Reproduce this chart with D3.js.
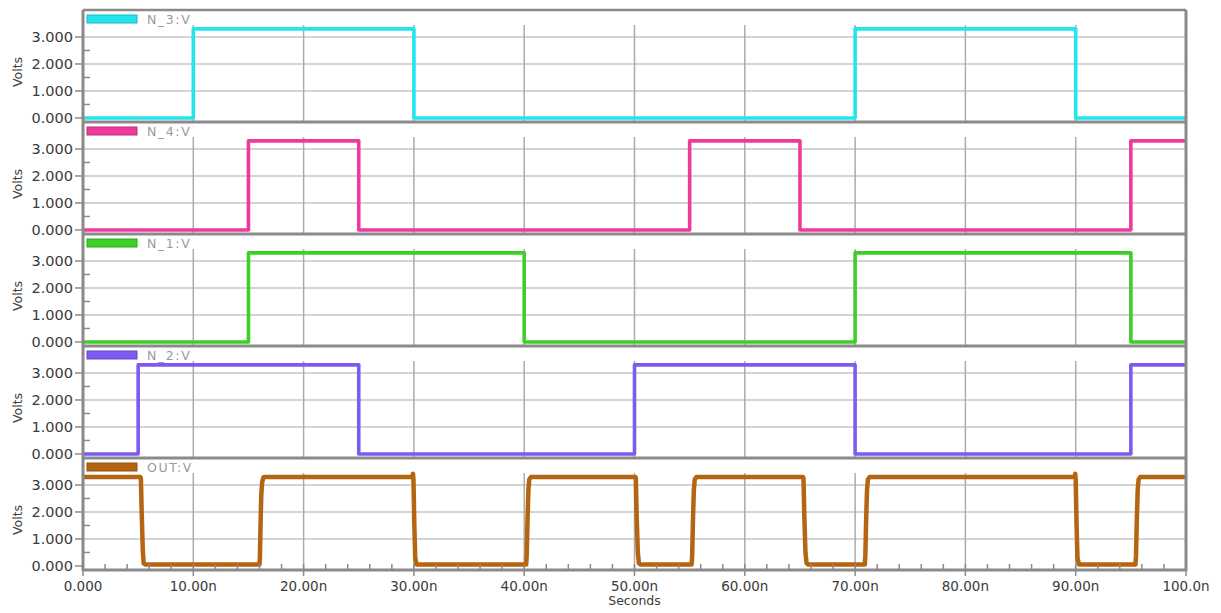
<!DOCTYPE html>
<html><head><meta charset="utf-8">
<script src="https://cdn.jsdelivr.net/npm/d3@7"></script>
<style>html,body{margin:0;padding:0;background:#fff;}svg{display:block;}</style>
</head><body>
<svg id="chart" width="1221" height="613"></svg>
<script>
// ---- data ----
const timeTicks = [0,10,20,30,40,50,60,70,80,90,100];
const timeTickLabels = ["0.000","10.00n","20.00n","30.00n","40.00n","50.00n","60.00n","70.00n","80.00n","90.00n","100.0n"];
const voltTicks = [0,1,2,3];
const voltTickLabels = ["0.000","1.000","2.000","3.000"];
const seriesNames = ["N_3:V","N_4:V","N_1:V","N_2:V","OUT:V"];
const seriesColors = ["#22e5ee","#ee3a9c","#3ccf25","#7d5af0","#b5650f"];
const highLevel = 3.3;
// input signals: start level and switching times (ns)
const n3Start = 0, n3Edges = [10,30,70,90];
const n4Start = 0, n4Edges = [15,25,55,65,95];
const n1Start = 0, n1Edges = [15,40,70,95];
const n2Start = 0, n2Edges = [5,25,50,70,95];
// OUT waveform (time ns, volts)
const outTime = [0,5.2,5.25,5.32,5.42,5.5,5.65,16.0,16.04,16.1,16.16,16.24,16.36,16.5,29.88,29.92,29.96,30.04,30.12,30.25,40.18,40.23,40.3,40.38,40.46,40.62,50.08,50.12,50.2,50.3,50.4,50.55,55.18,55.23,55.3,55.38,55.46,55.62,65.28,65.32,65.4,65.5,65.6,65.75,70.88,70.93,71.0,71.08,71.16,71.32,89.92,89.96,90.0,90.08,90.16,90.3,95.42,95.47,95.54,95.62,95.7,95.86,100];
const outVolt = [3.3,3.3,3.22,2.0,0.6,0.1,0.05,0.05,0.35,1.6,2.6,3.1,3.28,3.3,3.3,3.42,3.2,1.5,0.3,0.05,0.05,0.4,1.7,2.8,3.2,3.3,3.3,3.25,1.8,0.5,0.1,0.05,0.05,0.4,1.7,2.8,3.2,3.3,3.3,3.25,1.8,0.5,0.1,0.05,0.05,0.4,1.7,2.8,3.2,3.3,3.3,3.42,3.2,1.5,0.3,0.05,0.05,0.4,1.7,2.8,3.2,3.3,3.3];

function stepPoints(start, edges) {
  const pts = [];
  let v = start;
  pts.push([0, v]);
  edges.forEach(t => { pts.push([t, v]); v = v > 0 ? 0 : highLevel; pts.push([t, v]); });
  pts.push([100, v]);
  return pts;
}
const seriesData = [
  stepPoints(n3Start, n3Edges),
  stepPoints(n4Start, n4Edges),
  stepPoints(n1Start, n1Edges),
  stepPoints(n2Start, n2Edges),
  outTime.map((t, i) => [t, outVolt[i]])
];

// ---- layout ----
const svg = d3.select("#chart");
svg.append("rect").attr("width",1221).attr("height",613).attr("fill","#fff");
const left = 83, right = 1186, top0 = 10, panelH = 112, nPanels = 5;
const x = d3.scaleLinear().domain([0,100]).range([left,right]);
const y = d3.scaleLinear().domain([-0.15,4.0]).range([panelH,0]);
const axisColor = "#8a8a8a";
const font = "'DejaVu Sans', Verdana, sans-serif";

for (let i = 0; i < nPanels; i++) {
  const g = svg.append("g").attr("transform", `translate(0,${top0 + i*panelH})`);
  // horizontal grid
  g.selectAll(".hg").data(voltTicks.filter(v => v > 0)).enter().append("line")
    .attr("x1", left).attr("x2", right).attr("y1", d => y(d)).attr("y2", d => y(d))
    .attr("stroke", "#c6c6c6").attr("stroke-width", 1.5);
  // vertical grid
  g.selectAll(".vg").data(timeTicks.filter(t => t > 0 && t < 100)).enter().append("line")
    .attr("x1", d => x(d)).attr("x2", d => x(d)).attr("y1", 15).attr("y2", panelH)
    .attr("stroke", "#ababab").attr("stroke-width", 1.5);
  // left major ticks and labels
  g.selectAll(".mt").data(voltTicks).enter().append("line")
    .attr("x1", left - 8).attr("x2", left).attr("y1", d => y(d)).attr("y2", d => y(d))
    .attr("stroke", axisColor).attr("stroke-width", 1.5);
  g.selectAll(".mn").data([0.5,1.5,2.5]).enter().append("line")
    .attr("x1", left).attr("x2", left + 7).attr("y1", d => y(d)).attr("y2", d => y(d))
    .attr("stroke", axisColor).attr("stroke-width", 1.5);
  g.selectAll(".tl").data(voltTicks).enter().append("text")
    .attr("x", left - 10).attr("y", d => y(d) + 5)
    .attr("text-anchor", "end").attr("font-family", font).attr("font-size", 14.5)
    .attr("fill", "#3a3a3a").text((d, j) => voltTickLabels[j]);
  g.append("text").attr("transform", `translate(22,${62}) rotate(-90)`)
    .attr("text-anchor", "middle").attr("font-family", font).attr("font-size", 12.5)
    .attr("fill", "#3a3a3a").text("Volts");
  // trace
  const line = d3.line().x(d => x(d[0])).y(d => y(d[1]));
  g.append("path").datum(seriesData[i]).attr("d", line)
    .attr("fill", "none").attr("stroke", seriesColors[i])
    .attr("stroke-width", i === 4 ? 4.5 : 3.6).attr("stroke-linejoin", "round");
  // legend
  g.append("rect").attr("x", 87).attr("y", 5).attr("width", 50).attr("height", 8)
    .attr("fill", seriesColors[i]).attr("stroke", d3.color(seriesColors[i]).darker(0.6)).attr("stroke-width", 1);
  g.append("text").attr("x", 147).attr("y", 14).attr("font-family", font).attr("font-size", 12.5)
    .attr("letter-spacing", 1.6).attr("fill", "#9a9a9a").text(seriesNames[i]);
  // separator / top border
  g.append("line").attr("x1", left).attr("x2", right).attr("y1", 0).attr("y2", 0)
    .attr("stroke", axisColor).attr("stroke-width", i === 0 ? 2.5 : 3);
}
const bottom = top0 + nPanels*panelH;
// bottom border, left and right lines
svg.append("line").attr("x1", left).attr("x2", right).attr("y1", bottom).attr("y2", bottom)
  .attr("stroke", axisColor).attr("stroke-width", 3);
svg.append("line").attr("x1", left).attr("x2", left).attr("y1", top0).attr("y2", bottom + 1)
  .attr("stroke", axisColor).attr("stroke-width", 3);
svg.append("line").attr("x1", right).attr("x2", right).attr("y1", top0).attr("y2", bottom + 1)
  .attr("stroke", axisColor).attr("stroke-width", 3);
// bottom axis ticks
const minorT = d3.range(0, 101, 2).filter(t => t % 10 !== 0);
svg.selectAll(".bmn").data(minorT).enter().append("line")
  .attr("x1", d => x(d)).attr("x2", d => x(d)).attr("y1", bottom - 6).attr("y2", bottom)
  .attr("stroke", axisColor).attr("stroke-width", 1.5);
svg.selectAll(".bmj").data(timeTicks).enter().append("line")
  .attr("x1", d => x(d)).attr("x2", d => x(d)).attr("y1", bottom - 6).attr("y2", bottom + 6)
  .attr("stroke", axisColor).attr("stroke-width", 1.5);
svg.selectAll(".btl").data(timeTicks).enter().append("text")
  .attr("x", d => x(d)).attr("y", bottom + 21)
  .attr("text-anchor", "middle").attr("font-family", font).attr("font-size", 13.5)
  .attr("fill", "#3a3a3a").text((d, j) => timeTickLabels[j]);
svg.append("text").attr("x", (left + right)/2).attr("y", bottom + 35)
  .attr("text-anchor", "middle").attr("font-family", font).attr("font-size", 12.5)
  .attr("fill", "#3a3a3a").text("Seconds");
</script>
</body></html>
